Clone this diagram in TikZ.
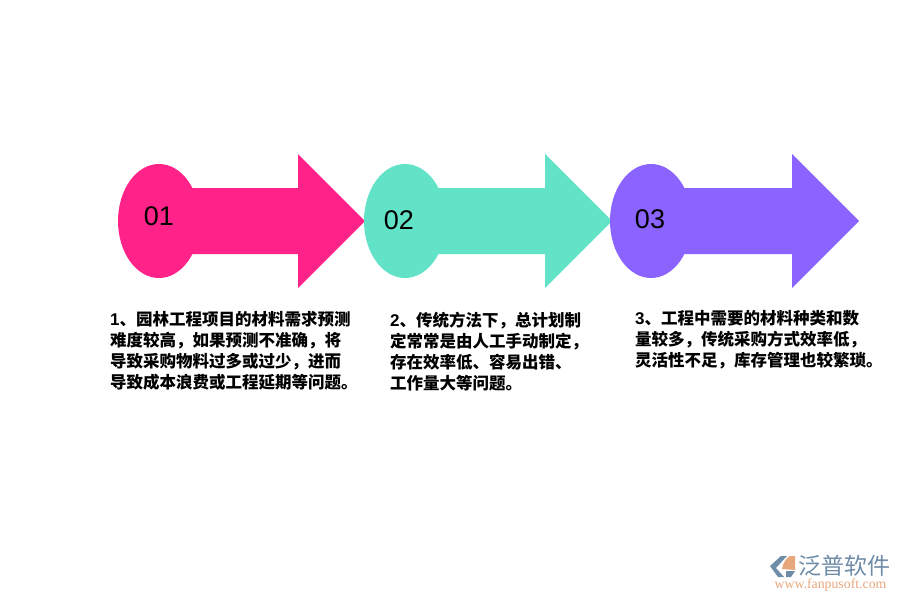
\documentclass[tikz,border=0pt]{standalone}
\usepackage{fontspec}
\setmainfont{Liberation Sans}
\newfontfamily\cjk{Noto Sans CJK SC}
\newfontfamily\logoserif{Liberation Serif}
\definecolor{rosepink}{HTML}{FF2289}
\definecolor{mint}{HTML}{62E3C8}
\definecolor{violet}{HTML}{8B63FF}
\definecolor{logoblue}{HTML}{6F8CA8}
\definecolor{logoorange}{HTML}{E8A67C}
\tikzset{
    numlabel/.style={font=\fontsize{27}{27}\selectfont,text=black,inner sep=0pt},
    textblock/.style={anchor=north west,align=left,inner sep=0pt,font=\fontsize{16.5}{21}\selectfont\bfseries\cjk}
}
\newcommand{\leadnum}[1]{{\fontspec{Liberation Sans}\fontsize{17}{21}\selectfont #1}}
\begin{document}
\begin{tikzpicture}[x=1pt,y=-1pt]
    \useasboundingbox (0,0) rectangle (900,600);
    %% arrows
    \foreach \x/\y/\c in {0/0/rosepink,246/247/mint,492/494/violet}
    {
        \fill[\c] (159+\x,221) ellipse (41 and 57);
        \fill[\c] (190+\x,188) -- (298+\y,188) -- (298+\y,154) -- (365+\y,221) -- (298+\y,288) -- (298+\y,254) -- (190+\x,254) -- cycle;
    }
    %% numbers
    \node[numlabel] (numone) at (159,216) {01};
    \node[numlabel] (numtwo) at (399,220) {02};
    \node[numlabel] (numthree) at (650,219) {03};
    %% texts
    \node[textblock] (textone) at (110,311) {\leadnum{1}、园林工程项目的材料需求预测\\难度较高，如果预测不准确，将\\导致采购物料过多或过少，进而\\导致成本浪费或工程延期等问题。};
    \node[textblock] (texttwo) at (390,312) {\leadnum{2}、传统方法下，总计划制\\定常常是由人工手动制定，\\存在效率低、容易出错、\\工作量大等问题。};
    \node[textblock] (textthree) at (635,310) {\leadnum{3}、工程中需要的材料种类和数\\量较多，传统采购方式效率低，\\灵活性不足，库存管理也较繁琐。};
    %% logo
    \fill[logoblue] (781,556) -- (787,556) -- (776,568) -- (784,577) -- (778,577) -- (770,566) -- cycle;
    \fill[logoorange] (782,569) .. controls (783,563) and (786,558) .. (790,556) -- (795,556) -- (795,570) -- cycle;
    \fill[logoblue] (786,571) -- (795,571) -- (791,577) -- (786,577) -- cycle;
    \node[inner sep=0pt,text=logoblue,font=\fontsize{23}{23}\selectfont\cjk] (logoname) at (844,566) {泛普软件};
    \node[inner sep=0pt,text=logoorange,font=\fontsize{13.8}{14}\selectfont\logoserif] (logourl) at (830.5,585) {www.fanpusoft.com};
\end{tikzpicture}
\end{document}
